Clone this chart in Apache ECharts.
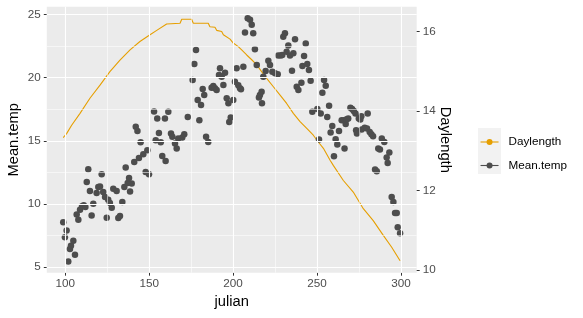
<!DOCTYPE html>
<html>
<head>
<meta charset="utf-8">
<script src="https://cdn.jsdelivr.net/npm/echarts@6/dist/echarts.min.js"></script>
<style>
html,body{margin:0;padding:0;background:#fff;}
#chart{width:583px;height:318px;}
</style>
</head>
<body>
<div id="chart"></div>
<script>
// ---- data ----
const julian = [98.8,99.8,100.8,101.8,102.8,103.4,104.8,105.8,106.8,107.8,108.8,110,111,112,112.8,113.7,114.7,115.7,116.7,118.7,119.7,120.7,121.7,122.6,123.7,124.7,125.6,126.6,127.7,128.6,130.6,131.6,132.6,134,135.2,136,137.2,138,138.6,139.6,141.1,142,143,143.9,144.9,146.5,147.9,148.9,149.9,152.9,153.9,154.8,155.8,156.9,157.8,159.4,159.8,161.4,163,163.8,165.4,166.4,167.3,169.7,170.9,173,175.9,176.9,177.9,178.9,179.9,180.9,181.9,182.8,183.9,185.2,187.2,188.2,189.2,190.2,191.6,192.2,193.2,194.2,195.2,196.2,197.2,197.7,198.6,200.1,201.1,202.1,203.1,204.1,204.7,206.1,207.1,208.7,210.1,211.1,212,213,214.1,215.4,216,217,217.2,218,219.4,221,222,223.4,225,226.6,226.9,228.4,229.3,229.9,230.9,231.9,232.9,233.9,235.1,235.9,236.9,237.9,238.9,240.7,241.3,242.3,243.3,244.2,245.2,246.2,247.2,250.2,251.2,252.2,253.2,254.2,255.2,256.1,257.2,258.1,259.1,260.1,261.1,262.1,263.1,264.7,266.1,266.4,267.1,267.7,268.6,269.9,270.9,271.9,272.9,273.3,273.8,274.9,275.8,276.4,276.6,278.4,279.8,280.2,281.4,282.4,283.4,284.6,285.6,286.5,287.5,288.6,290.1,291.5,292.1,293.1,294.5,295.5,296.5,297.5,298.1,299.5];
const meanTemp = [8.57,7.38,7.9,5.45,6.45,6.7,7.1,6.0,9.18,8.76,9.56,9.82,9.9,9.76,11.75,12.75,11.03,9.1,10.03,10.87,11.35,11.4,12.36,10.95,10.56,8.92,10.35,10.08,9.71,11.22,11.03,8.9,9.05,10.16,11.35,12.89,11.67,12.06,11.0,11.62,13.33,16.11,15.79,13.65,14.9,13.94,12.54,14.26,12.36,17.33,15.06,16.78,15.63,14.9,13.81,16.78,13.41,17.3,15.59,15.32,14.79,14.4,15.19,15.27,15.53,16.9,19.82,21.09,22.2,18.23,16.64,17.83,19.1,18.63,15.32,14.92,19.2,19.34,19.16,19.02,20.21,20.75,20.08,19.42,20.4,18.37,17.97,16.5,16.85,18.23,19.68,20.75,19.4,19.16,19.08,20.87,23.57,24.71,24.58,24.18,23.52,22.25,21.0,18.44,18.63,18.89,17.97,20.08,20.53,21.35,21.0,20.48,20.35,20.27,21.75,21.75,21.8,23.25,23.52,22.06,22.54,21.75,20.55,21.94,23.05,19.29,19.02,19.6,20.93,21.72,22.7,21.08,20.61,19.76,17.3,17.52,15.11,17.17,18.81,19.82,19.37,16.9,17.78,15.67,16.17,13.79,15.13,14.71,15.79,16.64,16.64,14.4,16.33,16.72,16.78,17.62,17.52,17.36,17.17,15.85,15.59,16.78,16.7,16.95,15.9,16.03,15.98,17.17,15.71,15.53,15.37,12.73,12.6,14.4,14.32,15.19,14.92,13.68,13.25,14.08,10.56,10.16,9.29,9.29,8.17,7.7];

const dayJulian = [98.8,100.8,103.8,108.8,114.7,120.7,126.6,132.6,138.6,144.5,150.5,154.5,160.4,168.4,169.4,175.3,176.3,185.2,186.2,189.2,190.2,193.2,194.2,198.2,200.1,203.1,205.1,208.1,211.1,214.1,217,220,224,228,231.9,235.9,239.9,243.9,247.8,250.8,253.8,257.8,259.7,265.7,271.6,277.6,283.5,289.5,294.5,299.5];
const dayLength = [13.33,13.43,13.64,13.94,14.32,14.65,14.99,15.28,15.54,15.75,15.92,16.03,16.19,16.21,16.31,16.31,16.21,16.21,16.12,16.11,16.03,16.0,15.92,15.81,15.71,15.62,15.54,15.41,15.29,15.16,14.99,14.82,14.61,14.40,14.19,13.94,13.73,13.56,13.39,13.22,13.06,12.76,12.63,12.25,11.96,11.54,11.24,10.87,10.57,10.23];

const xTicks = [100,150,200,250,300];
const xMinor = [125,175,225,275];
const yTicks = [5,10,15,20,25];
const yMinor = [7.5,12.5,17.5,22.5];
const y2Ticks = [10,12,14,16];

const FONT = '"Liberation Sans", Arial, Helvetica, sans-serif';
const chart = echarts.init(document.getElementById('chart'), null, {renderer:'canvas'});

const tempData = julian.map((j,i)=>[j, meanTemp[i]]);
const dayData = dayJulian.map((j,i)=>[j, dayLength[i]]);

const gridLines = [];
xTicks.forEach(v=>gridLines.push({xAxis:v, lineStyle:{color:'#fff', width:1.1, type:'solid'}}));
xMinor.forEach(v=>gridLines.push({xAxis:v, lineStyle:{color:'#fff', width:0.55, type:'solid'}}));
yTicks.forEach(v=>gridLines.push({yAxis:v, lineStyle:{color:'#fff', width:1.1, type:'solid'}}));
yMinor.forEach(v=>gridLines.push({yAxis:v, lineStyle:{color:'#fff', width:0.55, type:'solid'}}));

const axisLabelStyle = {color:'#4D4D4D', fontSize:11.7, fontFamily:FONT};
const nameStyle = {color:'#000', fontSize:14.7, fontFamily:FONT};

chart.setOption({
  animation:false,
  backgroundColor:'#fff',
  grid:{left:46.8, right:166.3, top:6.8, bottom:45.3, show:true, backgroundColor:'#EBEBEB', borderWidth:0, outerBoundsMode:'none', containLabel:false},
  xAxis:{
    type:'value', min:89, max:309.4,
    name:'julian', nameLocation:'middle', nameGap:22, nameMoveOverlap:false, nameTextStyle:nameStyle,
    axisLine:{show:false},
    axisTick:{show:true, length:3, lineStyle:{color:'#333'}, customValues:xTicks},
    axisLabel:Object.assign({margin:5, customValues:xTicks}, axisLabelStyle),
    splitLine:{show:false}
  },
  yAxis:[{
    type:'value', min:4.57, max:25.61, position:'left',
    name:'Mean.temp', nameLocation:'middle', nameGap:25, nameRotate:90, nameMoveOverlap:false, nameTextStyle:nameStyle,
    axisLine:{show:false},
    axisTick:{show:true, length:3, lineStyle:{color:'#333'}, customValues:yTicks},
    axisLabel:Object.assign({margin:6, customValues:yTicks}, axisLabelStyle),
    splitLine:{show:false}
  },{
    type:'value', min:9.929, max:16.623, position:'right',
    name:'Daylength', nameLocation:'middle', nameGap:21, nameRotate:-90, nameMoveOverlap:false, nameTextStyle:nameStyle,
    axisLine:{show:false},
    axisTick:{show:true, length:3, lineStyle:{color:'#333'}, customValues:y2Ticks},
    axisLabel:Object.assign({margin:6, customValues:y2Ticks}, axisLabelStyle),
    splitLine:{show:false}
  }],
  legend:{
    orient:'vertical', left:480, top:135, padding:0,
    itemWidth:18, itemHeight:7.5, itemGap:9.5,
    textStyle:{color:'#000', fontSize:11.7, lineHeight:14, fontFamily:FONT, padding:[0,0,0,5]},
    data:[
      {name:'Daylength', lineStyle:{color:'#E69F00', width:1.1, opacity:1}, itemStyle:{color:'#E69F00'}},
      {name:'Mean.temp', lineStyle:{color:'#4D4D4D', width:1.1, opacity:1}, itemStyle:{color:'#4D4D4D'}}
    ]
  },
  graphic:[{type:'rect', left:478, top:128, shape:{width:23, height:46}, style:{fill:'#F2F2F2'}, z:-1, silent:true}],
  series:[
    {
      name:'grid', type:'line', data:[], xAxisIndex:0, yAxisIndex:0, z:0, silent:true,
      markLine:{silent:true, symbol:['none','none'], label:{show:false}, animation:false, data:gridLines}
    },
    {
      name:'Daylength', type:'line', data:dayData, yAxisIndex:1, z:2,
      symbol:'circle', showSymbol:false, symbolSize:6,
      lineStyle:{color:'#E69F00', width:1.1}, itemStyle:{color:'#E69F00'}
    },
    {
      name:'Mean.temp', type:'line', data:tempData, yAxisIndex:0, z:3,
      symbol:'circle', symbolSize:6.5, showSymbol:true, showAllSymbol:true,
      lineStyle:{opacity:0, width:0}, itemStyle:{color:'#4D4D4D', borderWidth:0}
    }
  ]
});
</script>
</body>
</html>
